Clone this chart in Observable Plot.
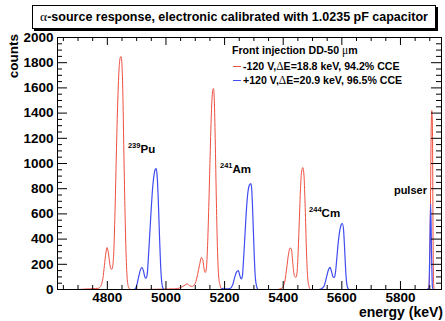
<!DOCTYPE html>
<html><head><meta charset="utf-8">
<script src="https://cdn.jsdelivr.net/npm/d3@7"></script>
<script src="https://cdn.jsdelivr.net/npm/@observablehq/plot@0.6"></script>
<style>
html,body{margin:0;padding:0;background:#fff;}
#wrap{position:relative;width:445px;height:321px;font-family:"Liberation Sans",Arial,sans-serif;font-weight:bold;color:#000;}
#wrap svg text{font-weight:bold;}
.abs{position:absolute;white-space:nowrap;}
.sym{font-family:"Liberation Serif","DejaVu Serif",serif;font-weight:normal;}
</style>
</head><body>
<div id="wrap"></div>
<script>
// ---- data ----
const redE = [4630,4700,4720,4740,4760,4770,4775,4780,4785,4790,4795,4799,4803,4808,4812,4815,4818,4822,4826,4830,4835,4840,4844,4847,4850,4853,4856,4860,4864,4868,4872,4876,4880,5030,5050,5065,5073,5080,5090,5100,5108,5115,5121,5126,5131,5134,5138,5142,5146,5150,5155,5159,5162,5165,5168,5172,5176,5180,5185,5190,5195,5380,5395,5405,5412,5418,5424,5428,5433,5438,5443,5447,5451,5455,5459,5463,5467,5471,5475,5479,5483,5488,5493,5893,5898,5902,5905,5907,5909,5911,5913,5916,5940];
const redC = [0,0,3,5,8,10,18,40,90,190,290,333,300,210,165,160,180,300,600,1000,1450,1750,1840,1849,1780,1550,1150,650,280,80,20,5,0,5,15,35,45,30,25,50,120,200,254,230,150,135,170,350,650,1000,1400,1570,1595,1500,1200,700,300,100,30,5,0,0,10,60,170,280,330,320,200,110,95,130,300,550,800,940,968,900,650,330,110,25,0,0,50,600,1300,1420,1300,500,50,0,0];
const blueE = [4630,4890,4895,4900,4906,4912,4918,4923,4928,4932,4936,4940,4945,4950,4955,4960,4964,4967,4970,4974,4978,4982,4986,4990,4995,5185,5195,5205,5220,5228,5235,5241,5247,5252,5257,5261,5265,5270,5275,5280,5285,5290,5293,5297,5301,5305,5310,5315,5520,5530,5540,5548,5555,5560,5565,5570,5574,5578,5583,5588,5593,5598,5602,5606,5610,5614,5618,5622,5626,5890,5897,5900,5903,5906,5909,5912,5940];
const blueC = [0,0,5,30,90,150,175,150,100,90,120,250,450,650,820,920,955,960,900,700,420,180,50,10,0,0,10,5,10,40,100,140,150,110,85,110,250,450,650,780,830,840,780,550,280,90,20,0,0,5,30,100,160,175,140,100,95,130,250,380,470,515,524,470,300,120,30,5,0,0,10,300,680,300,20,0,0];
const xMajor = [4800,5000,5200,5400,5600,5800];
const yMajor = [0,200,400,600,800,1000,1200,1400,1600,1800,2000];
const isoNum = ["239","241","244"];
const isoEl = ["Pu","Am","Cm"];
const isoE = [4913,5227,5531];
const isoC = [1111,952,603];
const pulserLabel = {text:"pulser", e:5834, c:786};
const titleText = "-source response, electronic calibrated with 1.0235 pF capacitor";
const legendHead = "Front injection DD-50 ";
const seriesNames = ["-120 V,", "+120 V,"];
const seriesRes = ["E=18.8 keV, 94.2% CCE", "E=20.9 keV, 96.5% CCE"];
const colors = ["#ee4f40", "#3f4cf0"];

// ---- build ----
const red = redE.map((e,i)=>({e, c: redC[i]}));
const blue = blueE.map((e,i)=>({e, c: blueC[i]}));
const xMinor = d3.range(4650, 5940, 50).filter(v=>!xMajor.includes(v));
const yMinor = d3.range(50, 2000, 50).filter(v=>!yMajor.includes(v));
const iso = isoNum.map((n,i)=>({n, el: isoEl[i], e: isoE[i], c: isoC[i]}));

const W=445, H=321, mL=57, mR=4, mT=37, mB=32;
const iw = W-mL-mR, ih = H-mT-mB;

const chart = Plot.plot({
  width: W, height: H,
  marginLeft: mL, marginRight: mR, marginTop: mT, marginBottom: mB,
  style: {fontFamily: "Liberation Sans, Arial, sans-serif", background: "#fff"},
  x: {domain: [4630, 5940]},
  y: {domain: [0, 2000]},
  marks: [
    Plot.line(red, {x:"e", y:"c", stroke: colors[0], strokeWidth: 1, curve: "monotone-x", clip: true}),
    Plot.line(blue, {x:"e", y:"c", stroke: colors[1], strokeWidth: 1.2, curve: "monotone-x", clip: true}),
    // ticks inside frame
    Plot.tickX(xMajor, {x: d=>d, insetTop: ih-8, stroke:"#000"}),
    Plot.tickX(xMinor, {x: d=>d, insetTop: ih-4, stroke:"#000"}),
    Plot.tickX(xMajor, {x: d=>d, insetBottom: ih-8, stroke:"#000"}),
    Plot.tickX(xMinor, {x: d=>d, insetBottom: ih-4, stroke:"#000"}),
    Plot.tickY(yMajor, {y: d=>d, insetRight: iw-10, stroke:"#000"}),
    Plot.tickY(yMinor, {y: d=>d, insetRight: iw-5, stroke:"#000"}),
    Plot.tickY(yMajor, {y: d=>d, insetLeft: iw-10, stroke:"#000"}),
    Plot.tickY(yMinor, {y: d=>d, insetLeft: iw-5, stroke:"#000"}),
    Plot.frame({stroke:"#000"}),
    Plot.axisX(xMajor, {tickSize: 0, tickPadding: 3, fontSize: 13.5, fontWeight: "bold", label: null, tickFormat: d=>String(d)}),
    Plot.axisY(yMajor, {tickSize: 0, tickPadding: 4, fontSize: 13.5, fontWeight: "bold", label: null, tickFormat: d=>String(d)}),
    // annotations
    Plot.text(iso, {x:"e", y:"c", text:"n", textAnchor:"end", fontSize: 7.5, dy: -4, fontWeight:"bold"}),
    Plot.text(iso, {x:"e", y:"c", text:"el", textAnchor:"start", fontSize: 11.5, fontWeight:"bold"}),
    Plot.text([pulserLabel], {x:"e", y:"c", text:"text", fontSize: 11, fontWeight:"bold"})
  ]
});
const wrap = document.getElementById("wrap");
wrap.appendChild(chart);

function add(html, css){ const d=document.createElement("div"); d.className="abs"; d.innerHTML=html; d.style.cssText += css; wrap.appendChild(d); return d; }
// title box
add(`<span class="sym" style="font-size:13.5px">&alpha;</span>${titleText}`,
  "left:32px;top:5px;width:402px;height:22px;border:1px solid #000;box-shadow:2px 2px 0 #000;background:#fff;font-size:12.5px;line-height:22px;text-align:center;");
// axis titles
add("counts", "left:7px;top:34px;font-size:13.5px;transform-origin:0 0;transform:rotate(-90deg) translate(-100%,0);line-height:14px;");
add("energy (keV)", "right:2px;top:304px;font-size:14px;line-height:16px;");
// legend
add(`${legendHead}<span class="sym" style="font-size:11.5px">&mu;</span>m`, "left:232px;top:43px;font-size:10.6px;line-height:14px;");
seriesNames.forEach((s,i)=>{
  const top = 59 + i*14;
  add("", `left:233px;top:${top+7}px;width:8px;height:0;border-top:1px solid ${colors[i]};`);
  add(`${s}<span class="sym" style="font-size:11.5px">&Delta;</span>${seriesRes[i]}`, `left:243px;top:${top}px;font-size:10.6px;line-height:14px;`);
});
</script>
</body></html>
